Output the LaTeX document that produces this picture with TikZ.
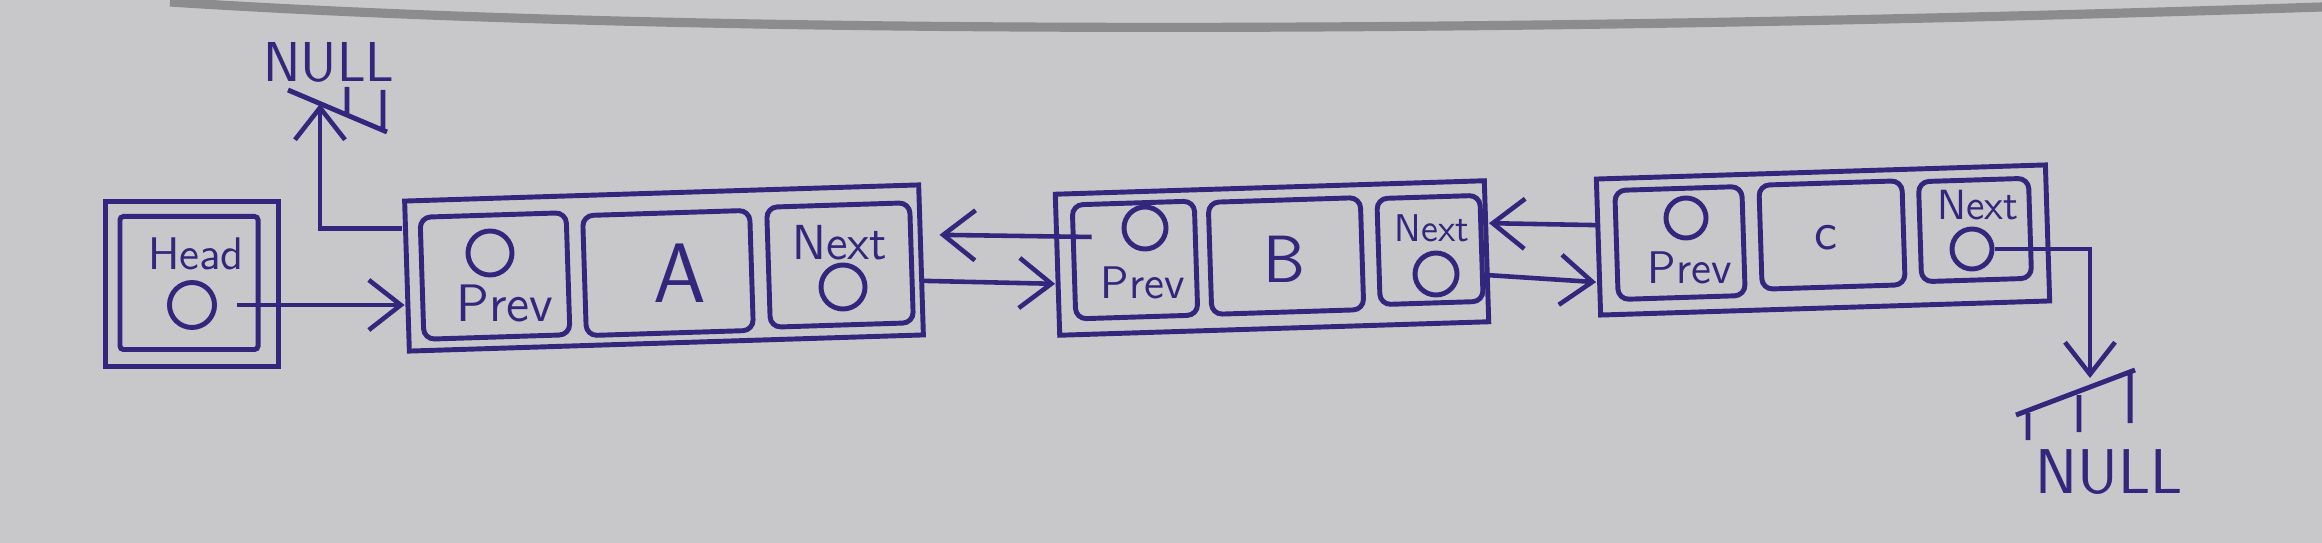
\documentclass[tikz,border=0pt]{standalone}
\usepackage{tikz}
\usetikzlibrary{arrows.meta}
\definecolor{inkblue}{RGB}{50,38,125}
\definecolor{paper}{RGB}{200,200,203}
\definecolor{pencil}{RGB}{140,140,143}
\newcommand{\handfont}[1]{\sffamily\fontsize{#1}{#1}\selectfont}
\tikzset{ink/.style={draw=inkblue, line width=1.4pt},
    outerbox/.style={ink, rectangle, inner sep=0pt},
    cellbox/.style={ink, rectangle, rounded corners=3pt, inner sep=0pt},
    tilt/.style={rotate=1.8},
    ptr/.style={ink, circle, inner sep=0pt, minimum size=0.42cm},
    txt/.style={text=inkblue, inner sep=0pt},
    link/.style={draw=inkblue, line width=1.3pt, -{Straight Barb[length=3.2mm,width=5mm]}}}

\begin{document}
\begin{tikzpicture}[x=0.01cm, y=-0.01cm]
    \fill[paper] (0,0) rectangle (2322,543);
    \useasboundingbox (0,0) rectangle (2322,543);
    \draw[pencil, line width=2.6pt] (170,2) .. controls (700,36) and (1500,34) .. (2322,7);
    % head pointer
    \node[outerbox, minimum width=1.72cm, minimum height=1.65cm] (head) at (192,284) {};
    \node[cellbox, rounded corners=1pt, minimum width=1.38cm, minimum height=1.33cm] (headin) at (189,283) {};
    \node[txt, font=\handfont{13}] (headtxt) at (196,254) {Head};
    \node[ptr, minimum size=0.45cm] (hp) at (192,305) {};
    % node A
    \node[outerbox, tilt, minimum width=5.14cm, minimum height=1.5cm] (A) at (664,268) {};
    \node[cellbox, tilt, minimum width=1.46cm, minimum height=1.22cm] (Aprev) at (495,276) {};
    \node[cellbox, tilt, minimum width=1.67cm, minimum height=1.2cm] (Adata) at (668,273) {};
    \node[cellbox, tilt, minimum width=1.43cm, minimum height=1.2cm] (Anext) at (840,265) {};
    \node[ptr, minimum size=0.44cm] (ap) at (490,253) {};
    \node[txt, font=\handfont{15}] (aprevtxt) at (505,303) {Prev};
    \node[txt, font=\handfont{24}] (atxt) at (680,273) {A};
    \node[txt, font=\handfont{14}] (anexttxt) at (840,243) {Next};
    \node[ptr, minimum size=0.44cm] (an) at (843,287) {};
    % node B
    \node[outerbox, tilt, minimum width=4.29cm, minimum height=1.41cm] (B) at (1272,258) {};
    \node[cellbox, tilt, minimum width=1.22cm, minimum height=1.14cm] (Bprev) at (1135,260) {};
    \node[cellbox, tilt, minimum width=1.52cm, minimum height=1.12cm] (Bdata) at (1286,256) {};
    \node[cellbox, tilt, minimum width=1.03cm, minimum height=1.06cm] (Bnext) at (1430,250) {};
    \node[ptr] (bp) at (1145,228) {};
    \node[txt, font=\handfont{13}] (bprevtxt) at (1143,283) {Prev};
    \node[txt, font=\handfont{19}] (btxt) at (1284,259) {B};
    \node[txt, font=\handfont{11}] (bnexttxt) at (1432,228) {Next};
    \node[ptr] (bn) at (1436,274) {};
    % node C
    \node[outerbox, tilt, minimum width=4.49cm, minimum height=1.36cm] (C) at (1823,240) {};
    \node[cellbox, tilt, minimum width=1.27cm, minimum height=1.09cm] (Cprev) at (1680,243) {};
    \node[cellbox, tilt, minimum width=1.43cm, minimum height=1.04cm] (Cdata) at (1832,235) {};
    \node[cellbox, tilt, minimum width=1.10cm, minimum height=1.0cm] (Cnext) at (1975,230) {};
    \node[ptr, minimum size=0.4cm] (cp) at (1686,218) {};
    \node[txt, font=\handfont{13}] (cprevtxt) at (1690,268) {Prev};
    \node[txt, font=\handfont{15}] (ctxt) at (1826,238) {c};
    \node[txt, font=\handfont{12}] (cnexttxt) at (1978,205) {Next};
    \node[ptr, minimum size=0.4cm] (cn) at (1972,249) {};
    % null ends
    \node[txt, font=\handfont{16}] (nulltop) at (329,62) {NULL};
    \node[txt, font=\handfont{18}] (nullbot) at (2109,472) {NULL};
    \coordinate (gndA) at (320,104);
    \coordinate (gndC) at (2090,378);
    \draw[ink] (288,90) -- (387,132) (347,87) -- (347,113) (383,90) -- (383,130);
    \draw[ink] (2016,415) -- (2135,370) (2028,413) -- (2028,440) (2079,395) -- (2079,432) (2130,372) -- (2130,423);
    % links
    \draw[link] ([yshift=-0.3cm]A.north west) -| (gndA);
    \draw[link] ([xshift=0.2cm]hp.east) -- (hp.east -| A.west);
    \draw[link] ([yshift=-0.21cm]A.east) -- ([yshift=-0.19cm]B.west);
    \draw[link] ([xshift=0.2cm,yshift=0.25cm]Bprev.west) -- ([xshift=0.16cm,yshift=0.25cm]A.east);
    \draw[link] ([yshift=-0.24cm]B.east) -- ([yshift=-0.35cm]C.west);
    \draw[link] ([yshift=0.22cm]C.west) -- ([yshift=0.28cm]B.east);
    \draw[link] (cn.east) -| (gndC);
\end{tikzpicture}
\end{document}
